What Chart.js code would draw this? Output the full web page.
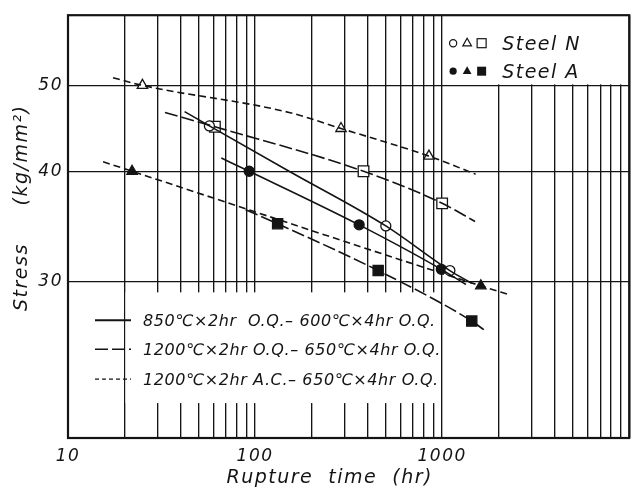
<!DOCTYPE html>
<html>
<head>
<meta charset="utf-8">
<script src="https://cdn.jsdelivr.net/npm/chart.js@4.4.1/dist/chart.umd.min.js"></script>
<style>
html,body{margin:0;padding:0;background:#fff;}
#wrap{width:638px;height:490px;}
</style>
</head>
<body>
<div id="wrap"><canvas id="c" width="638" height="490"></canvas></div>
<script>
// ---- axis ticks ----
const xGridValues = [10, 20, 30, 40, 50, 60, 70, 80, 90, 100, 200, 300, 400, 500, 600, 700, 800, 900, 1000, 2000, 3000, 4000, 5000, 6000, 7000, 8000, 9000, 10000];
const xLabelValues = [10, 100, 1000];
const yTickValues = [30, 40, 50];

// ---- measured points (rupture time hr, stress kg/mm2) ----
// Steel N (open markers)
const circleN_time = [57, 500, 1100];
const circleN_stress = [45.0, 34.7, 30.9];
const squareN_time = [61, 380, 1000];
const squareN_stress = [44.9, 40.0, 36.8];
const triangleN_time = [25, 288, 850];
const triangleN_stress = [50.0, 44.7, 41.6];
// Steel A (filled markers)
const circleA_time = [93, 360, 990];
const circleA_stress = [40.0, 34.8, 31.0];
const squareA_time = [132, 455, 1440];
const squareA_stress = [34.9, 30.9, 27.1];
const triangleA_time = [22, 1610];
const triangleA_stress = [40.0, 29.7];

// ---- hand-drawn curves ----
const fitCircleN_time = [42, 57, 152, 500, 1100, 1440];
const fitCircleN_stress = [46.7, 45.0, 40.0, 34.7, 30.9, 29.9];
const fitCircleA_time = [66, 93, 360, 990, 1340];
const fitCircleA_stress = [41.4, 40.0, 34.8, 31.0, 29.8];
const fitSquareN_time = [33, 61, 380, 1000, 1500];
const fitSquareN_stress = [46.6, 44.9, 40.0, 36.8, 35.1];
const fitSquareA_time = [89, 132, 455, 1440, 1670];
const fitSquareA_stress = [36.2, 34.9, 30.9, 27.1, 26.5];
const fitTriangleN_time = [17.4, 25, 152, 288, 850, 1510];
const fitTriangleN_stress = [51.0, 50.0, 46.6, 44.7, 41.6, 39.7];
const fitTriangleA_time = [15.4, 22, 1610, 2310];
const fitTriangleA_stress = [41.0, 40.0, 29.7, 29.0];

// ---- legend texts ----
const treatmentLabels = [
  '850℃×2hr  O.Q.– 600℃×4hr O.Q.',
  '1200℃×2hr O.Q.– 650℃×4hr O.Q.',
  '1200℃×2hr A.C.– 650℃×4hr O.Q.'
];
const steelLabels = ['Steel N', 'Steel A'];

const INK = '#141414';
const FONT = "'DejaVu Sans'";
const SOLID = [];
const LONGDASH = [13, 4];
const DASH = [7, 4];

function pts(t, s) { return t.map((v, i) => ({x: v, y: s[i]})); }

function curve(t, s, dash) {
  return {type: 'line', data: pts(t, s), showLine: true, borderColor: INK, borderWidth: 1.6,
    borderDash: dash, pointRadius: 0, fill: false, cubicInterpolationMode: 'monotone'};
}
function marks(t, s, style, r, filled) {
  return {type: 'scatter', data: pts(t, s), showLine: false, pointStyle: style, pointRadius: r,
    pointBackgroundColor: filled ? INK : '#fff', pointBorderColor: INK, pointBorderWidth: 1.3};
}

const decor = {
  id: 'decor',
  beforeDraw(chart) { chart.ctx.letterSpacing = '1.5px'; },
  beforeDatasetsDraw(chart) {
    const {ctx, chartArea: a, scales: {x, y}} = chart;
    const x20 = x.getPixelForValue(20), x1000 = x.getPixelForValue(1000);
    const y50 = y.getPixelForValue(50);
    ctx.save();
    ctx.fillStyle = '#fff';
    // blank area behind lower-left legend
    const gTop = y.getPixelForValue(29.2), gBot = y.getPixelForValue(21.9);
    ctx.fillRect(x20 + 1.2, gTop, x1000 - x20 - 2.4, gBot - gTop);
    // blank area behind upper-right legend
    ctx.fillRect(x1000 + 1.2, a.top, a.right - x1000 - 1.2, y50 - 1 - a.top);
    ctx.restore();
  },
  afterDraw(chart) {
    const {ctx, chartArea: a, scales: {x, y}} = chart;
    ctx.save();
    ctx.strokeStyle = INK; ctx.fillStyle = INK;
    ctx.lineWidth = 2.2;
    ctx.setLineDash([]);
    ctx.strokeRect(a.left, a.top, a.right - a.left, a.bottom - a.top);

    // upper-right legend
    const x1000 = x.getPixelForValue(1000);
    const rows = [a.top + 28, a.top + 56];
    ctx.lineWidth = 1.2;
    rows.forEach((ry, i) => {
      const filled = i === 1;
      ctx.beginPath(); ctx.arc(x1000 + 11, ry, 3.6, 0, Math.PI * 2);
      if (filled) ctx.fill(); else ctx.stroke();
      const tx = x1000 + 25, r = 5;
      ctx.beginPath();
      ctx.moveTo(tx, ry - r); ctx.lineTo(tx + r * 0.87, ry + r * 0.55); ctx.lineTo(tx - r * 0.87, ry + r * 0.55); ctx.closePath();
      if (filled) ctx.fill(); else ctx.stroke();
      if (filled) ctx.fillRect(x1000 + 35, ry - 4.5, 9, 9); else ctx.strokeRect(x1000 + 35, ry - 4.5, 9, 9);
      ctx.font = 'italic 19px ' + FONT;
      ctx.textAlign = 'left'; ctx.textBaseline = 'alphabetic';
      ctx.letterSpacing = '1.5px';
      ctx.fillText(steelLabels[i], x1000 + 60, ry + 7);
    });

    // lower-left legend
    const lrows = [a.top + 305, a.top + 334, a.top + 364];
    const dashes = [SOLID, LONGDASH, [4, 3]];
    const widths = [2, 1.4, 1.3];
    lrows.forEach((ry, i) => {
      ctx.beginPath();
      ctx.setLineDash(dashes[i]);
      ctx.lineWidth = widths[i];
      ctx.moveTo(95, ry); ctx.lineTo(131, ry); ctx.stroke();
      ctx.setLineDash([]);
      ctx.font = 'italic 16px ' + FONT;
      ctx.textAlign = 'left'; ctx.textBaseline = 'middle';
      ctx.letterSpacing = '0.6px';
      ctx.fillText(treatmentLabels[i], 143, ry + 2);
    });
    ctx.restore();
  }
};

new Chart(document.getElementById('c'), {
  type: 'scatter',
  data: {
    datasets: [
      curve(fitCircleN_time, fitCircleN_stress, SOLID),
      curve(fitCircleA_time, fitCircleA_stress, SOLID),
      curve(fitSquareN_time, fitSquareN_stress, LONGDASH),
      curve(fitSquareA_time, fitSquareA_stress, LONGDASH),
      curve(fitTriangleN_time, fitTriangleN_stress, DASH),
      curve(fitTriangleA_time, fitTriangleA_stress, DASH),
      marks(circleN_time, circleN_stress, 'circle', 5, false),
      marks(squareN_time, squareN_stress, 'rect', 7.5, false),
      marks(triangleN_time, triangleN_stress, 'triangle', 6, false),
      marks(circleA_time, circleA_stress, 'circle', 5, true),
      marks(squareA_time, squareA_stress, 'rect', 7.2, true),
      marks(triangleA_time, triangleA_stress, 'triangle', 6, true)
    ]
  },
  options: {
    responsive: false,
    animation: false,
    events: [],
    layout: {padding: {top: 12, right: 7, left: 0, bottom: 0}},
    plugins: {legend: {display: false}, tooltip: {enabled: false}},
    scales: {
      x: {
        type: 'logarithmic', min: 10, max: 10000,
        afterBuildTicks: s => { s.ticks = xGridValues.map(v => ({value: v})); },
        afterFit: s => { s.height = 52; },
        grid: {color: INK, lineWidth: 1.35, drawTicks: false},
        border: {display: false},
        ticks: {autoSkip: false, maxRotation: 0, padding: 8, color: INK,
          font: {family: FONT, size: 17, style: 'italic'},
          callback: v => xLabelValues.includes(v) ? String(v) : ''},
        title: {display: true, text: 'Rupture  time  (hr)     ', color: INK,
          font: {family: FONT, size: 19, style: 'italic'}, padding: {top: 0, bottom: 1}}
      },
      y: {
        type: 'logarithmic', min: 20, max: 60,
        afterBuildTicks: s => { s.ticks = yTickValues.map(v => ({value: v})); },
        afterFit: s => { s.width = 68; },
        grid: {color: INK, lineWidth: 1.35, drawTicks: false},
        border: {display: false},
        ticks: {padding: 5, color: INK, font: {family: FONT, size: 17, style: 'italic'},
          callback: v => String(v)},
        title: {display: true, text: '     Stress     (kg/mm²)', color: INK,
          font: {family: FONT, size: 19, style: 'italic'}, padding: {top: 11, bottom: 0}}
      }
    }
  },
  plugins: [decor]
});
</script>
</body>
</html>
